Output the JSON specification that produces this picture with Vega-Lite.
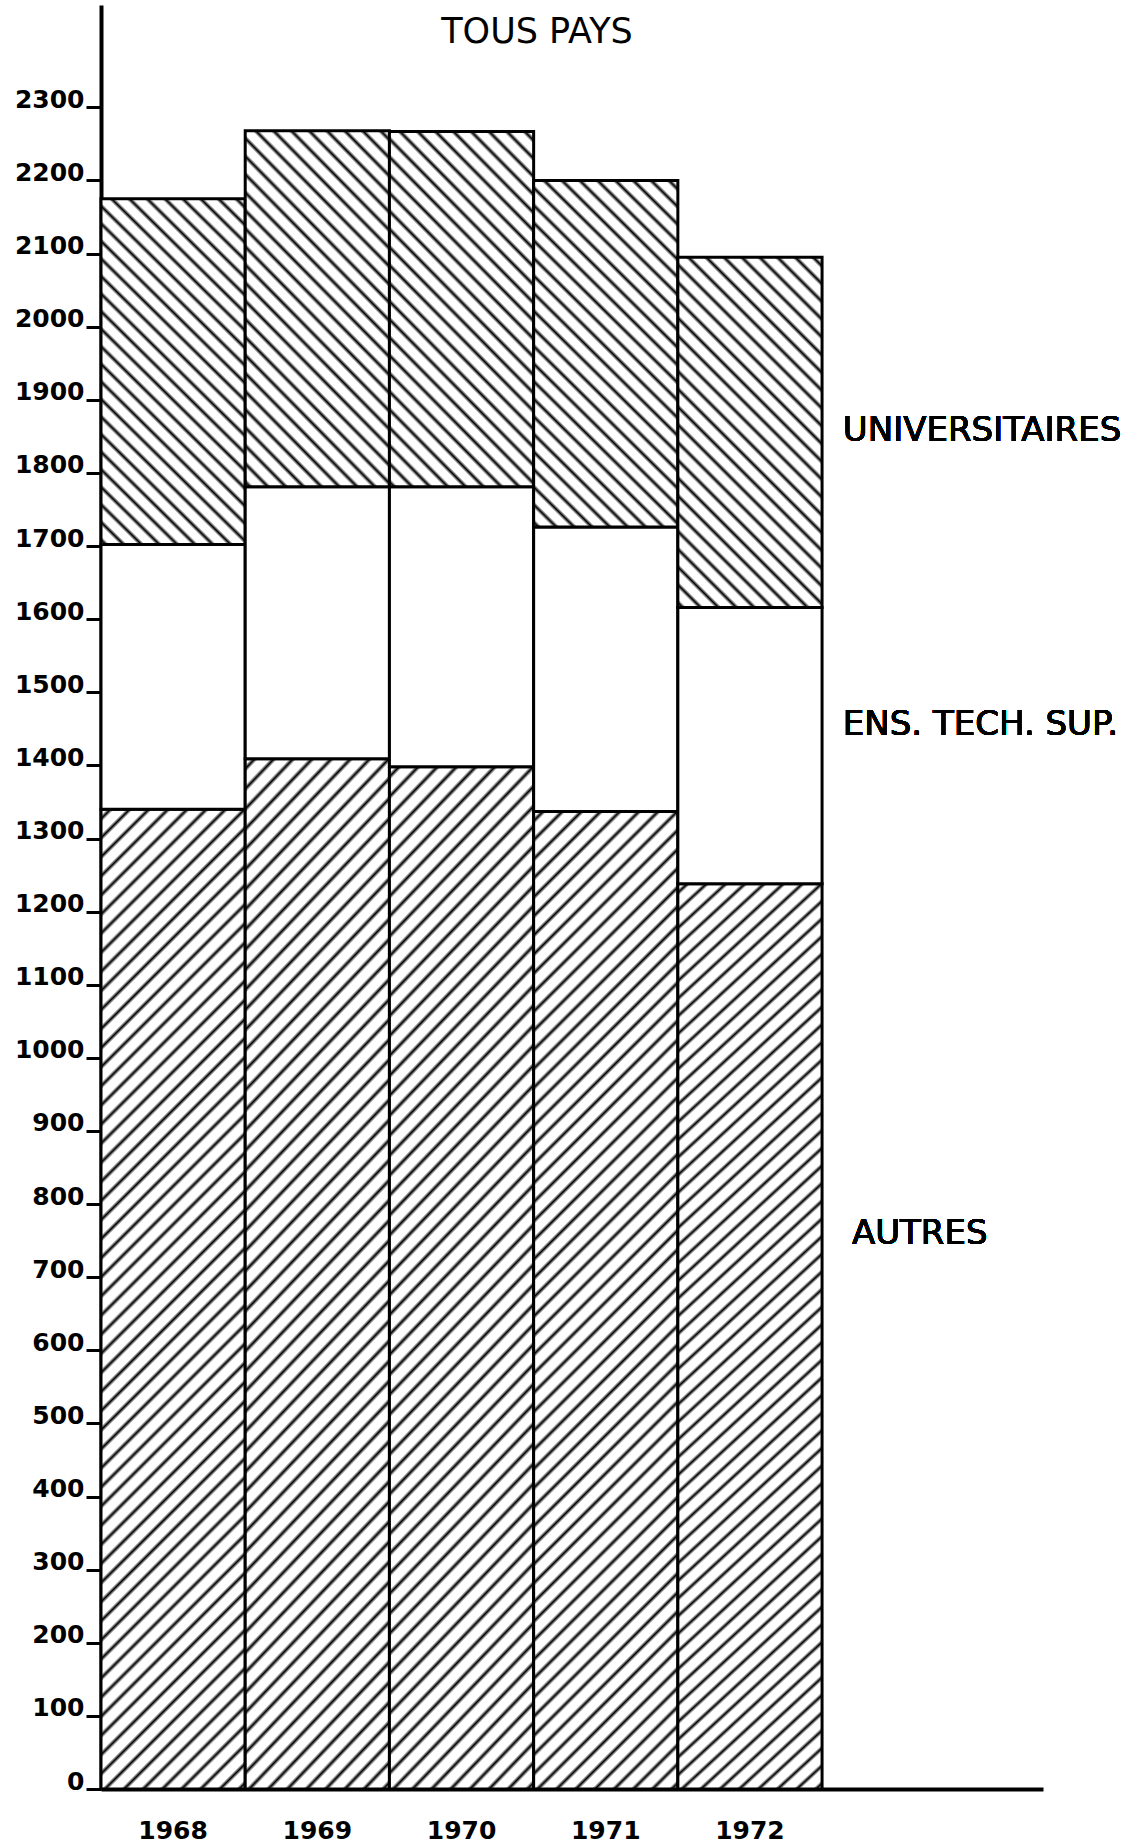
{
  "$schema": "https://vega.github.io/schema/vega-lite/v6.json",
  "autosize": {"type": "none"},
  "padding": {"left": 101, "top": 5, "right": 95, "bottom": 56},
  "width": 942,
  "height": 1784,
  "background": "white",
  "title": {"text": "TOUS PAYS", "font": "DejaVu Sans", "fontSize": 35, "fontWeight": "normal", "color": "black", "anchor": "middle", "frame": "group", "offset": -45, "dx": -35},
  "config": {
    "view": {"stroke": null},
    "axis": {"labelFont": "DejaVu Sans", "labelFontWeight": "bold", "labelColor": "black", "domainColor": "black", "tickColor": "black", "grid": false}
  },
  "data": {"values": [
    {"annee": "1968", "cat": "AUTRES", "valeur": 1340},
    {"annee": "1968", "cat": "ENS. TECH. SUP.", "valeur": 362},
    {"annee": "1968", "cat": "UNIVERSITAIRES", "valeur": 473},
    {"annee": "1969", "cat": "AUTRES", "valeur": 1409},
    {"annee": "1969", "cat": "ENS. TECH. SUP.", "valeur": 372},
    {"annee": "1969", "cat": "UNIVERSITAIRES", "valeur": 487},
    {"annee": "1970", "cat": "AUTRES", "valeur": 1398},
    {"annee": "1970", "cat": "ENS. TECH. SUP.", "valeur": 383},
    {"annee": "1970", "cat": "UNIVERSITAIRES", "valeur": 486},
    {"annee": "1971", "cat": "AUTRES", "valeur": 1337},
    {"annee": "1971", "cat": "ENS. TECH. SUP.", "valeur": 389},
    {"annee": "1971", "cat": "UNIVERSITAIRES", "valeur": 474},
    {"annee": "1972", "cat": "AUTRES", "valeur": 1238},
    {"annee": "1972", "cat": "ENS. TECH. SUP.", "valeur": 378},
    {"annee": "1972", "cat": "UNIVERSITAIRES", "valeur": 479}
  ]},
  "layer": [
    {
      "mark": {"type": "bar", "stroke": "black", "strokeWidth": 3},
      "encoding": {
        "x": {"field": "annee", "type": "nominal",
              "scale": {"type": "band", "domain": ["1968", "1969", "1970", "1971", "1972"], "paddingInner": 0, "paddingOuter": 0.766, "align": 0},
              "axis": {"title": null, "labelAngle": 0, "ticks": false, "tickSize": 0, "domainWidth": 4, "labelFontSize": 25, "labelBaseline": "alphabetic", "labelPadding": 49}},
        "y": {"field": "valeur", "type": "quantitative", "stack": "zero",
              "scale": {"domain": [0, 2440], "nice": false, "zero": true},
              "axis": {"title": null, "format": "d", "values": [0,100,200,300,400,500,600,700,800,900,1000,1100,1200,1300,1400,1500,1600,1700,1800,1900,2000,2100,2200,2300], "tickSize": 15, "tickWidth": 3, "domainWidth": 4, "labelFontSize": 25, "labelBaseline": "alphabetic", "labelPadding": 2, "labelOverlap": false, "labelFlush": false}},
        "detail": {"field": "cat", "type": "nominal"},
        "order": {"field": "cat", "sort": "ascending"},
        "fill": {
          "condition": [
            {"test": "datum.cat === 'AUTRES'", "value": {"gradient": "linear", "x1": 0, "y1": 0, "x2": 0.1647, "y2": 1.1226, "stops": [
              {"offset":0.005,"color":"#fff"},{"offset":0.0085,"color":"#000"},{"offset":0.012,"color":"#fff"},
              {"offset":0.022,"color":"#fff"},{"offset":0.0255,"color":"#000"},{"offset":0.029,"color":"#fff"},
              {"offset":0.039,"color":"#fff"},{"offset":0.0425,"color":"#000"},{"offset":0.046,"color":"#fff"},
              {"offset":0.056,"color":"#fff"},{"offset":0.0595,"color":"#000"},{"offset":0.063,"color":"#fff"},
              {"offset":0.073,"color":"#fff"},{"offset":0.0765,"color":"#000"},{"offset":0.080,"color":"#fff"},
              {"offset":0.090,"color":"#fff"},{"offset":0.0935,"color":"#000"},{"offset":0.097,"color":"#fff"},
              {"offset":0.107,"color":"#fff"},{"offset":0.1105,"color":"#000"},{"offset":0.114,"color":"#fff"},
              {"offset":0.124,"color":"#fff"},{"offset":0.1275,"color":"#000"},{"offset":0.131,"color":"#fff"},
              {"offset":0.141,"color":"#fff"},{"offset":0.1445,"color":"#000"},{"offset":0.148,"color":"#fff"},
              {"offset":0.158,"color":"#fff"},{"offset":0.1615,"color":"#000"},{"offset":0.165,"color":"#fff"},
              {"offset":0.175,"color":"#fff"},{"offset":0.1785,"color":"#000"},{"offset":0.182,"color":"#fff"},
              {"offset":0.192,"color":"#fff"},{"offset":0.1955,"color":"#000"},{"offset":0.199,"color":"#fff"},
              {"offset":0.209,"color":"#fff"},{"offset":0.2125,"color":"#000"},{"offset":0.216,"color":"#fff"},
              {"offset":0.226,"color":"#fff"},{"offset":0.2295,"color":"#000"},{"offset":0.233,"color":"#fff"},
              {"offset":0.243,"color":"#fff"},{"offset":0.2465,"color":"#000"},{"offset":0.250,"color":"#fff"},
              {"offset":0.260,"color":"#fff"},{"offset":0.2635,"color":"#000"},{"offset":0.267,"color":"#fff"},
              {"offset":0.277,"color":"#fff"},{"offset":0.2805,"color":"#000"},{"offset":0.284,"color":"#fff"},
              {"offset":0.294,"color":"#fff"},{"offset":0.2975,"color":"#000"},{"offset":0.301,"color":"#fff"},
              {"offset":0.311,"color":"#fff"},{"offset":0.3145,"color":"#000"},{"offset":0.318,"color":"#fff"},
              {"offset":0.328,"color":"#fff"},{"offset":0.3315,"color":"#000"},{"offset":0.335,"color":"#fff"},
              {"offset":0.345,"color":"#fff"},{"offset":0.3485,"color":"#000"},{"offset":0.352,"color":"#fff"},
              {"offset":0.362,"color":"#fff"},{"offset":0.3655,"color":"#000"},{"offset":0.369,"color":"#fff"},
              {"offset":0.379,"color":"#fff"},{"offset":0.3825,"color":"#000"},{"offset":0.386,"color":"#fff"},
              {"offset":0.396,"color":"#fff"},{"offset":0.3995,"color":"#000"},{"offset":0.403,"color":"#fff"},
              {"offset":0.413,"color":"#fff"},{"offset":0.4165,"color":"#000"},{"offset":0.420,"color":"#fff"},
              {"offset":0.430,"color":"#fff"},{"offset":0.4335,"color":"#000"},{"offset":0.437,"color":"#fff"},
              {"offset":0.447,"color":"#fff"},{"offset":0.4505,"color":"#000"},{"offset":0.454,"color":"#fff"},
              {"offset":0.464,"color":"#fff"},{"offset":0.4675,"color":"#000"},{"offset":0.471,"color":"#fff"},
              {"offset":0.481,"color":"#fff"},{"offset":0.4845,"color":"#000"},{"offset":0.488,"color":"#fff"},
              {"offset":0.498,"color":"#fff"},{"offset":0.5015,"color":"#000"},{"offset":0.505,"color":"#fff"},
              {"offset":0.515,"color":"#fff"},{"offset":0.5185,"color":"#000"},{"offset":0.522,"color":"#fff"},
              {"offset":0.532,"color":"#fff"},{"offset":0.5355,"color":"#000"},{"offset":0.539,"color":"#fff"},
              {"offset":0.549,"color":"#fff"},{"offset":0.5525,"color":"#000"},{"offset":0.556,"color":"#fff"},
              {"offset":0.566,"color":"#fff"},{"offset":0.5695,"color":"#000"},{"offset":0.573,"color":"#fff"},
              {"offset":0.583,"color":"#fff"},{"offset":0.5865,"color":"#000"},{"offset":0.590,"color":"#fff"},
              {"offset":0.600,"color":"#fff"},{"offset":0.6035,"color":"#000"},{"offset":0.607,"color":"#fff"},
              {"offset":0.617,"color":"#fff"},{"offset":0.6205,"color":"#000"},{"offset":0.624,"color":"#fff"},
              {"offset":0.634,"color":"#fff"},{"offset":0.6375,"color":"#000"},{"offset":0.641,"color":"#fff"},
              {"offset":0.651,"color":"#fff"},{"offset":0.6545,"color":"#000"},{"offset":0.658,"color":"#fff"},
              {"offset":0.668,"color":"#fff"},{"offset":0.6715,"color":"#000"},{"offset":0.675,"color":"#fff"},
              {"offset":0.685,"color":"#fff"},{"offset":0.6885,"color":"#000"},{"offset":0.692,"color":"#fff"},
              {"offset":0.702,"color":"#fff"},{"offset":0.7055,"color":"#000"},{"offset":0.709,"color":"#fff"},
              {"offset":0.719,"color":"#fff"},{"offset":0.7225,"color":"#000"},{"offset":0.726,"color":"#fff"},
              {"offset":0.736,"color":"#fff"},{"offset":0.7395,"color":"#000"},{"offset":0.743,"color":"#fff"},
              {"offset":0.753,"color":"#fff"},{"offset":0.7565,"color":"#000"},{"offset":0.760,"color":"#fff"},
              {"offset":0.770,"color":"#fff"},{"offset":0.7735,"color":"#000"},{"offset":0.777,"color":"#fff"},
              {"offset":0.787,"color":"#fff"},{"offset":0.7905,"color":"#000"},{"offset":0.794,"color":"#fff"},
              {"offset":0.804,"color":"#fff"},{"offset":0.8075,"color":"#000"},{"offset":0.811,"color":"#fff"},
              {"offset":0.821,"color":"#fff"},{"offset":0.8245,"color":"#000"},{"offset":0.828,"color":"#fff"},
              {"offset":0.838,"color":"#fff"},{"offset":0.8415,"color":"#000"},{"offset":0.845,"color":"#fff"},
              {"offset":0.855,"color":"#fff"},{"offset":0.8585,"color":"#000"},{"offset":0.862,"color":"#fff"},
              {"offset":0.872,"color":"#fff"},{"offset":0.8755,"color":"#000"},{"offset":0.879,"color":"#fff"},
              {"offset":0.889,"color":"#fff"},{"offset":0.8925,"color":"#000"},{"offset":0.896,"color":"#fff"},
              {"offset":0.906,"color":"#fff"},{"offset":0.9095,"color":"#000"},{"offset":0.913,"color":"#fff"},
              {"offset":0.923,"color":"#fff"},{"offset":0.9265,"color":"#000"},{"offset":0.930,"color":"#fff"},
              {"offset":0.940,"color":"#fff"},{"offset":0.9435,"color":"#000"},{"offset":0.947,"color":"#fff"},
              {"offset":0.957,"color":"#fff"},{"offset":0.9605,"color":"#000"},{"offset":0.964,"color":"#fff"},
              {"offset":0.974,"color":"#fff"},{"offset":0.9775,"color":"#000"},{"offset":0.981,"color":"#fff"},
              {"offset":0.991,"color":"#fff"},{"offset":0.9945,"color":"#000"},{"offset":0.998,"color":"#fff"}
            ]}},
            {"test": "datum.cat === 'UNIVERSITAIRES'", "value": {"gradient": "linear", "x1": 1, "y1": 0, "x2": 0.5041, "y2": 1.207, "stops": [
              {"offset":0.010,"color":"#fff"},{"offset":0.018,"color":"#000"},{"offset":0.026,"color":"#fff"},
              {"offset":0.046,"color":"#fff"},{"offset":0.054,"color":"#000"},{"offset":0.062,"color":"#fff"},
              {"offset":0.082,"color":"#fff"},{"offset":0.090,"color":"#000"},{"offset":0.098,"color":"#fff"},
              {"offset":0.118,"color":"#fff"},{"offset":0.126,"color":"#000"},{"offset":0.134,"color":"#fff"},
              {"offset":0.154,"color":"#fff"},{"offset":0.162,"color":"#000"},{"offset":0.170,"color":"#fff"},
              {"offset":0.190,"color":"#fff"},{"offset":0.198,"color":"#000"},{"offset":0.206,"color":"#fff"},
              {"offset":0.226,"color":"#fff"},{"offset":0.234,"color":"#000"},{"offset":0.242,"color":"#fff"},
              {"offset":0.262,"color":"#fff"},{"offset":0.270,"color":"#000"},{"offset":0.278,"color":"#fff"},
              {"offset":0.298,"color":"#fff"},{"offset":0.306,"color":"#000"},{"offset":0.314,"color":"#fff"},
              {"offset":0.334,"color":"#fff"},{"offset":0.342,"color":"#000"},{"offset":0.350,"color":"#fff"},
              {"offset":0.370,"color":"#fff"},{"offset":0.378,"color":"#000"},{"offset":0.386,"color":"#fff"},
              {"offset":0.406,"color":"#fff"},{"offset":0.414,"color":"#000"},{"offset":0.422,"color":"#fff"},
              {"offset":0.442,"color":"#fff"},{"offset":0.450,"color":"#000"},{"offset":0.458,"color":"#fff"},
              {"offset":0.478,"color":"#fff"},{"offset":0.486,"color":"#000"},{"offset":0.494,"color":"#fff"},
              {"offset":0.514,"color":"#fff"},{"offset":0.522,"color":"#000"},{"offset":0.530,"color":"#fff"},
              {"offset":0.550,"color":"#fff"},{"offset":0.558,"color":"#000"},{"offset":0.566,"color":"#fff"},
              {"offset":0.586,"color":"#fff"},{"offset":0.594,"color":"#000"},{"offset":0.602,"color":"#fff"},
              {"offset":0.622,"color":"#fff"},{"offset":0.630,"color":"#000"},{"offset":0.638,"color":"#fff"},
              {"offset":0.658,"color":"#fff"},{"offset":0.666,"color":"#000"},{"offset":0.674,"color":"#fff"},
              {"offset":0.694,"color":"#fff"},{"offset":0.702,"color":"#000"},{"offset":0.710,"color":"#fff"},
              {"offset":0.730,"color":"#fff"},{"offset":0.738,"color":"#000"},{"offset":0.746,"color":"#fff"},
              {"offset":0.766,"color":"#fff"},{"offset":0.774,"color":"#000"},{"offset":0.782,"color":"#fff"},
              {"offset":0.802,"color":"#fff"},{"offset":0.810,"color":"#000"},{"offset":0.818,"color":"#fff"},
              {"offset":0.838,"color":"#fff"},{"offset":0.846,"color":"#000"},{"offset":0.854,"color":"#fff"},
              {"offset":0.874,"color":"#fff"},{"offset":0.882,"color":"#000"},{"offset":0.890,"color":"#fff"},
              {"offset":0.910,"color":"#fff"},{"offset":0.918,"color":"#000"},{"offset":0.926,"color":"#fff"},
              {"offset":0.946,"color":"#fff"},{"offset":0.954,"color":"#000"},{"offset":0.962,"color":"#fff"},
              {"offset":0.982,"color":"#fff"},{"offset":0.990,"color":"#000"},{"offset":0.998,"color":"#fff"}
            ]}}
          ],
          "value": "white"
        }
      }
    },
    {
      "mark": {"type": "text", "text": "UNIVERSITAIRES", "align": "left", "baseline": "middle", "font": "DejaVu Sans", "fontSize": 34, "color": "black"},
      "encoding": {"x": {"datum": "1972", "type": "nominal", "bandPosition": 1.144}, "y": {"datum": 1858, "type": "quantitative"}}
    },
    {
      "mark": {"type": "text", "text": "ENS. TECH. SUP.", "align": "left", "baseline": "middle", "font": "DejaVu Sans", "fontSize": 34, "color": "black"},
      "encoding": {"x": {"datum": "1972", "type": "nominal", "bandPosition": 1.144}, "y": {"datum": 1455, "type": "quantitative"}}
    },
    {
      "mark": {"type": "text", "text": "AUTRES", "align": "left", "baseline": "middle", "font": "DejaVu Sans", "fontSize": 34, "color": "black"},
      "encoding": {"x": {"datum": "1972", "type": "nominal", "bandPosition": 1.207}, "y": {"datum": 759, "type": "quantitative"}}
    }
  ]
}
